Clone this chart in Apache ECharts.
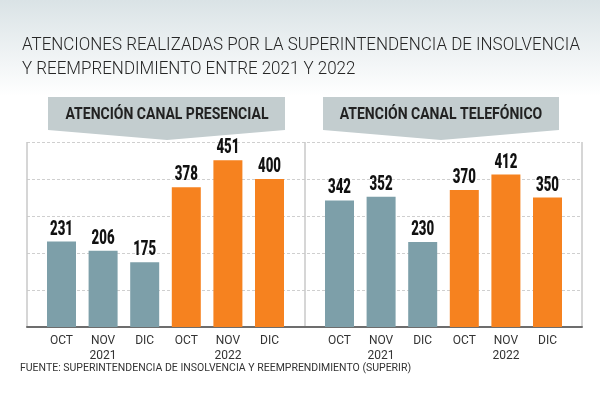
<!DOCTYPE html>
<html><head><meta charset="utf-8">
<script src="https://cdn.jsdelivr.net/npm/echarts@6/dist/echarts.min.js"></script>
<style>html,body{margin:0;padding:0;background:#fff}#c{width:600px;height:400px}</style>
</head><body><div id="c"></div>
<script>
const months = ['OCT', 'NOV', 'DIC', 'OCT', 'NOV', 'DIC'];
const years = ['', '2021', '', '', '2022', ''];
const presencial = [231, 206, 175, 378, 451, 400];
const telefonico = [342, 352, 230, 370, 412, 350];
const yTicks = [0, 100, 200, 300, 400, 500];
const titleLines = ['ATENCIONES REALIZADAS POR LA SUPERINTENDENCIA DE INSOLVENCIA', 'Y REEMPRENDIMIENTO ENTRE 2021 Y 2022'];
const panelTitles = ['ATENCIÓN CANAL PRESENCIAL', 'ATENCIÓN CANAL TELEFÓNICO'];
const source = 'FUENTE: SUPERINTENDENCIA DE INSOLVENCIA Y REEMPRENDIMIENTO (SUPERIR)';

const GREY = '#7d9fa9', ORANGE = '#f6821f';
const yMax = yTicks[yTicks.length - 1];
const yInt = yTicks[1] - yTicks[0];

function barData(vals) {
  return vals.map((v, i) => ({ value: v, itemStyle: { color: i < 3 ? GREY : ORANGE } }));
}
const catLabels = months.map((m, i) => years[i] ? m + '\n' + years[i] : m);

// horizontal squeeze so condensed-looking text fits the reference width
const mctx = document.createElement('canvas').getContext('2d');
function fitScale(text, font, target) {
  mctx.font = font;
  return Math.min(1, target / mctx.measureText(text).width);
}
const titleFont = '300 19px Roboto';
const titleScale = fitScale(titleLines[0], titleFont, 558);
const panelFont = 'bold 17px Roboto';
const panelScale = fitScale(panelTitles[0], panelFont, 203);
const valueFont = '900 20px Roboto';
const valueScale = fitScale('451', valueFont, 23);

const chart = echarts.init(document.getElementById('c'), null, { renderer: 'canvas' });
const gTop = 142, gBottom = 73;
const barAxisX = (gi) => ({
  type: 'category', gridIndex: gi, data: catLabels,
  axisLine: { show: false }, axisTick: { show: false },
  axisLabel: { color: '#333', fontSize: 12, fontFamily: 'Roboto', margin: 6, lineHeight: 15 }
});
const barAxisY = (gi) => ({
  type: 'value', gridIndex: gi, min: 0, max: yMax, interval: yInt, show: false
});

const staticGraphics = [
  { type: 'text', x: 22, y: 45, scaleX: titleScale, style: { text: titleLines[0], fill: '#262626', font: titleFont, verticalAlign: 'middle' } },
  { type: 'text', x: 22, y: 69, scaleX: titleScale, style: { text: titleLines[1], fill: '#262626', font: titleFont, verticalAlign: 'middle' } },
  { type: 'polygon', shape: { points: [[48, 97], [285, 97], [285, 130], [167, 140], [48, 130]] }, style: { fill: '#c3cdcf' } },
  { type: 'polygon', shape: { points: [[323, 97], [559, 97], [559, 130], [441, 140], [323, 130]] }, style: { fill: '#c3cdcf' } },
  { type: 'text', x: 167, y: 115, scaleX: panelScale, style: { text: panelTitles[0], fill: '#222', align: 'center', verticalAlign: 'middle', font: panelFont } },
  { type: 'text', x: 441, y: 115, scaleX: panelScale, style: { text: panelTitles[1], fill: '#222', align: 'center', verticalAlign: 'middle', font: panelFont } },
  { type: 'text', left: 20, top: 363, style: { text: source, fill: '#333', font: '10.5px Roboto' } }
];

chart.setOption({
  animation: false,
  backgroundColor: {
    type: 'linear', x: 0, y: 0, x2: 0, y2: 1,
    colorStops: [{ offset: 0, color: '#dae3e6' }, { offset: 0.24, color: '#ffffff' }, { offset: 1, color: '#ffffff' }]
  },
  grid: [
    { left: 27, right: 18, top: gTop, bottom: gBottom },
    { left: 40.7, right: 309.7, top: gTop, bottom: gBottom },
    { left: 318.7, right: 31.7, top: gTop, bottom: gBottom }
  ],
  xAxis: [
    { type: 'value', gridIndex: 0, min: 0, max: 2, interval: 1,
      axisLine: { show: true, lineStyle: { color: '#6d6d6d', width: 2 } },
      axisTick: { show: false }, axisLabel: { show: false },
      splitLine: { show: true, lineStyle: { color: '#c8c8c8', width: 1.5 } } },
    barAxisX(1), barAxisX(2)
  ],
  yAxis: [
    { type: 'value', gridIndex: 0, min: 0, max: yMax, interval: yInt,
      axisLine: { show: false }, axisTick: { show: false }, axisLabel: { show: false },
      splitLine: { show: true, lineStyle: { color: '#cfcfcf', type: [3, 2], width: 1 } } },
    barAxisY(1), barAxisY(2)
  ],
  series: [
    { type: 'bar', name: 'Presencial', xAxisIndex: 1, yAxisIndex: 1, data: barData(presencial), barWidth: 29 },
    { type: 'bar', name: 'Telefónico', xAxisIndex: 2, yAxisIndex: 2, data: barData(telefonico), barWidth: 29 }
  ],
  graphic: staticGraphics
});

// value labels placed through the chart's own scales, squeezed to look condensed
const valueLabels = [];
[[presencial, 0], [telefonico, 1]].forEach(([vals, si]) => {
  vals.forEach((v, i) => {
    const p = chart.convertToPixel({ seriesIndex: si }, [i, v]);
    valueLabels.push({
      type: 'text', x: p[0], y: p[1] - 12, scaleX: valueScale,
      style: { text: String(v), fill: '#111', font: valueFont, align: 'center', verticalAlign: 'middle' }
    });
  });
});
chart.setOption({ graphic: staticGraphics.concat(valueLabels) }, { replaceMerge: ['graphic'] });
</script></body></html>
